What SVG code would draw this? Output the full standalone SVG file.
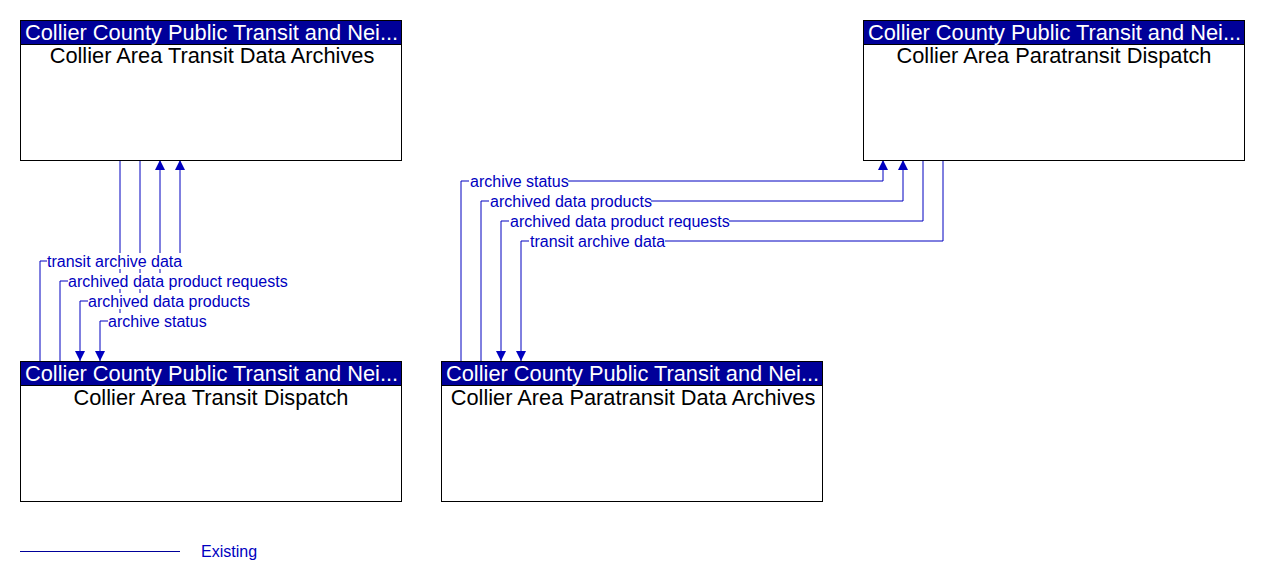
<svg xmlns="http://www.w3.org/2000/svg" width="1261" height="582" viewBox="0 0 1261 582">
<defs>
<style>
.box{fill:#fff;stroke:#000;stroke-width:1}
.hdr{fill:#000099;stroke:#000;stroke-width:1}
.ht{font-family:"Liberation Sans",Arial,sans-serif;font-size:21.8px;fill:#fff}
.tt{font-family:"Liberation Sans",Arial,sans-serif;font-size:21.8px;fill:#000;text-anchor:middle}
.ln{fill:none;stroke:#0000C0;stroke-width:1}
.lb{font-family:"Liberation Sans",Arial,sans-serif;font-size:16px;fill:#0000C0}
.bg{fill:#fff}
</style>
<marker id="arr" viewBox="0 0 10 10" refX="10" refY="5" markerWidth="10" markerHeight="10" markerUnits="userSpaceOnUse" orient="auto">
<path d="M0,0 L10,5 L0,10 z" fill="#0000C0"/>
</marker>
</defs>
<rect width="1261" height="582" fill="#fff"/>

<g id="connectors">
<polyline class="ln" points="40,361 40,261 180,261 180,160" marker-end="url(#arr)"/>
<polyline class="ln" points="60,361 60,281 160,281 160,160" marker-end="url(#arr)"/>
<polyline class="ln" points="140,160 140,301 80,301 80,361" marker-end="url(#arr)"/>
<polyline class="ln" points="120,160 120,321 100,321 100,361" marker-end="url(#arr)"/>
<polyline class="ln" points="461,361 461,181 883,181 883,160" marker-end="url(#arr)"/>
<polyline class="ln" points="481,361 481,201 903,201 903,160" marker-end="url(#arr)"/>
<polyline class="ln" points="923,160 923,221 501,221 501,361" marker-end="url(#arr)"/>
<polyline class="ln" points="943,160 943,241 521,241 521,361" marker-end="url(#arr)"/>
<rect class="bg" x="47" y="253" width="136" height="16"/>
<text class="lb" x="47" y="267">transit archive data</text>
<rect class="bg" x="68" y="273" width="219" height="16"/>
<text class="lb" x="68" y="287">archived data product requests</text>
<rect class="bg" x="88" y="293" width="162" height="16"/>
<text class="lb" x="88" y="307">archived data products</text>
<rect class="bg" x="108" y="313" width="99" height="16"/>
<text class="lb" x="108" y="327">archive status</text>
<rect class="bg" x="469" y="173" width="99" height="16"/>
<text class="lb" x="470" y="187">archive status</text>
<rect class="bg" x="489" y="193" width="162" height="16"/>
<text class="lb" x="490" y="207">archived data products</text>
<rect class="bg" x="509" y="213" width="220" height="16"/>
<text class="lb" x="510" y="227">archived data product requests</text>
<rect class="bg" x="529" y="233" width="136" height="16"/>
<text class="lb" x="530" y="247">transit archive data</text>
</g>

<g id="node-transit-data-archives">
<rect class="box" x="20.5" y="20.5" width="381" height="140"/>
<rect class="hdr" x="20.5" y="20.5" width="381" height="24"/>
<text class="ht" x="25" y="40">Collier County Public Transit and Nei...</text>
<text class="tt" x="212" y="63">Collier Area Transit Data Archives</text>
</g>

<g id="node-paratransit-dispatch">
<rect class="box" x="863.5" y="20.5" width="381" height="140"/>
<rect class="hdr" x="863.5" y="20.5" width="381" height="24"/>
<text class="ht" x="868" y="40">Collier County Public Transit and Nei...</text>
<text class="tt" x="1054" y="63">Collier Area Paratransit Dispatch</text>
</g>

<g id="node-transit-dispatch">
<rect class="box" x="20.5" y="361.5" width="381" height="140"/>
<rect class="hdr" x="20.5" y="361.5" width="381" height="24"/>
<text class="ht" x="25" y="381">Collier County Public Transit and Nei...</text>
<text class="tt" x="211" y="405">Collier Area Transit Dispatch</text>
</g>

<g id="node-paratransit-data-archives">
<rect class="box" x="441.5" y="361.5" width="381" height="140"/>
<rect class="hdr" x="441.5" y="361.5" width="381" height="24"/>
<text class="ht" x="446" y="381">Collier County Public Transit and Nei...</text>
<text class="tt" x="633" y="405">Collier Area Paratransit Data Archives</text>
</g>

<g id="legend">
<line x1="20" y1="551.5" x2="180" y2="551.5" stroke="#000099" stroke-width="1"/>
<text class="lb" x="201" y="557">Existing</text>
</g>
</svg>
